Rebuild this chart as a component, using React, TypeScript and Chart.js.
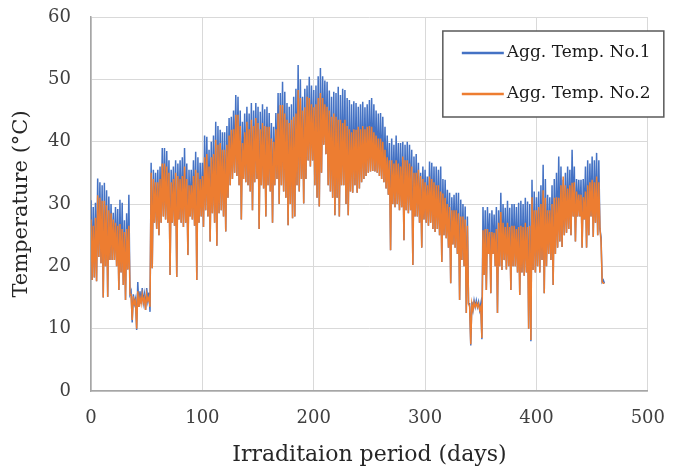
import React, { useEffect, useRef } from "react";
import { Chart, registerables } from "chart.js";

Chart.register(...registerables);

// x axis: irradiation period (days), y axis: temperature (°C)
const xTickValues = [0, 100, 200, 300, 400, 500];
const yTickValues = [0, 10, 20, 30, 40, 50, 60];
const seriesNames = ["Agg. Temp. No.1", "Agg. Temp. No.2"];
const seriesColors = ["#4472C4", "#ED7D31"];

// readings sampled every 2 days: daily high at the sample day, daily low the day after
const startDay = 0;
const stepDays = 2;

const no1Max = [
  30.6, 29.5, 30.2, 34.1, 33.5, 33, 33.4, 32.2, 31.2, 30,
  28.6, 29.5, 29.2, 30.7, 30.2, 27.4, 28.5, 31.5, 16, 15.5,
  14.8, 17.5, 16, 16.5, 15.5, 16.5, 15.8, 36.6, 35.5, 35,
  35.5, 36, 39, 39, 38.5, 37, 35.5, 36, 37, 36.5,
  37, 37.5, 39, 36.5, 35.5, 35.5, 37, 38.4, 37.5, 36.6,
  36.6, 41, 40.8, 38.7, 40, 41, 43.2, 42.5, 41.9, 41.5,
  41.5, 42.5, 43.8, 44, 45, 47.5, 47.2, 45, 43.2, 44.5,
  45.6, 44.5, 46.2, 45, 46.2, 45.6, 44.8, 46, 45.2, 45.6,
  44.6, 43, 42.4, 44.6, 47.8, 47.8, 49.6, 48, 46.2, 45.6,
  46, 47.2, 48.5, 52.3, 50, 47.2, 48.5, 49, 50.4, 49,
  48.3, 49, 50.5, 51.8, 50.5, 49.8, 49.6, 48.2, 47.2, 48,
  47.8, 48.8, 47.5, 48.5, 48.3, 47, 46.7, 46, 46.5, 46.2,
  45.6, 46, 46.4, 45.5, 46, 46.7, 47, 46, 45, 44.5,
  44.6, 44, 42.4, 41, 39.8, 40.5, 39.5, 41, 39.8, 39.8,
  40, 39.5, 40, 39.5, 38.7, 37.6, 38, 36.6, 35, 36,
  35.5, 34.4, 36.8, 36.6, 36, 36, 35.5, 36, 34, 33.9,
  32.3, 31.8, 31.1, 31.5, 31.8, 31.8, 30.7, 30, 29.6, 28,
  14, 14.3, 14.5, 14.5, 14.3, 14, 29.5, 29, 29.5, 28.5,
  29, 28.3, 29.5, 29, 31.8, 30, 29.4, 30.5, 29.4, 30,
  30, 29.5, 30.2, 30.5, 30, 31, 30.4, 30, 33.9, 32,
  31.1, 32, 33, 36.3, 34, 31.5, 31.1, 33, 34, 35,
  37.6, 36, 33.9, 35, 36, 35.5, 38.7, 36, 34, 33.9,
  33.9, 34, 36, 37, 36.5, 37.6, 37, 38.2, 37, 24.7, 17.8,
];

const no1Min = [
  17.8, 18.2, 17.6, 21.5, 20.5, 15, 20, 15.1, 21, 21,
  21, 20, 16.2, 19, 17, 14.6, 19.5, 15.5, 11, 14,
  9.8, 13.5, 14, 14.2, 13, 14.5, 12.7, 19.7, 27, 26,
  25, 27, 28, 27.5, 27, 18.6, 27, 26.5, 18.3, 27.5,
  27, 26.3, 27, 21.8, 28, 27.5, 26.5, 17.8, 27, 28,
  26.3, 29, 28, 24, 28.5, 27, 23.3, 28.5, 29, 28,
  25.6, 31, 33, 34, 35, 34.5, 33, 27.5, 34, 33.5,
  33, 32, 29, 33.5, 34, 26, 33, 32.5, 28, 33,
  32, 27, 33, 34, 30, 33, 32, 31, 26.6, 30,
  27.7, 28, 33, 32, 34, 30.1, 34, 37, 36, 37,
  33, 31, 29.6, 35, 39.5, 38, 33, 32, 31, 28.2,
  31, 28, 33, 33, 30, 28.2, 32, 31.8, 33, 31.8,
  32.5, 33.5, 34, 34.5, 35, 35.2, 35.3, 35.2, 35, 34.5,
  34, 33.5, 32.5, 31.5, 22.6, 30, 29.5, 30, 29, 29.5,
  24.2, 29, 28.5, 29, 20.2, 28, 28, 27, 23, 27.5,
  27, 26.5, 27, 26, 25.5, 26, 25, 20.7, 25, 24.5,
  23, 17.3, 23.5, 23, 22, 14.6, 21, 20, 12.5, 14,
  7.3, 13, 13.5, 13.5, 13, 8.3, 18.6, 16.2, 22, 15.7,
  22, 20, 12.5, 20, 19.4, 21, 19.5, 20, 16.2, 20,
  20, 19, 15.4, 19, 18.5, 19, 10, 8, 19.4, 19,
  20, 19, 21, 15.7, 20, 22, 21, 17, 22, 23,
  24, 23.1, 25, 25.4, 26, 25, 28, 24, 28, 28,
  23, 27.5, 23, 25, 28, 24.7, 27, 25, 26, 17.5, 17.3,
];

const no2Max = [
  27.5, 26.5, 27.8, 31.4, 31, 30.5, 30.5, 29.8, 29, 28.5,
  27.5, 27, 26.5, 26.8, 26, 25.5, 26, 26.5, 15.5, 15.2,
  14.5, 16, 15, 15.5, 15, 15.5, 15, 35, 34, 33.5,
  33.5, 34, 36.5, 36.5, 36, 35, 33.5, 34, 35, 34.5,
  34, 34.5, 36, 34, 33, 33, 34.5, 35.5, 35, 34,
  34.5, 37.5, 38, 36, 37.5, 38, 40.3, 39.5, 39.8, 38.7,
  38.7, 39.5, 41, 41.9, 42, 44.3, 44.3, 42.5, 39.8, 41.5,
  43.2, 42, 43.5, 42.5, 43.8, 43, 42, 43, 42.5, 42.4,
  42.4, 40.5, 40, 42, 44.5, 45.9, 45.9, 44.5, 43.5, 43,
  43.5, 44, 44.5, 48.3, 47, 45, 45.5, 47.2, 47, 46,
  45.5, 46, 47, 47.8, 47, 46, 45.6, 45, 44, 44.5,
  44, 43.5, 43.5, 43, 43.5, 42.5, 42, 41.5, 42, 41.9,
  42.4, 42, 42.5, 42, 42.4, 42.5, 42.4, 41.5, 41, 40.5,
  40.5, 40, 38.7, 37.5, 37, 37, 36.5, 37, 36.5, 36,
  37.6, 37, 37, 36.5, 36, 35, 35, 35.5, 34.5, 34,
  33.5, 33, 34.4, 34, 33.5, 33, 33, 32, 31.7, 31,
  30, 29.5, 29, 29, 29, 28.5, 28, 28, 27.5, 26.5,
  13.5, 14, 14.2, 14.1, 14, 13.5, 25.8, 26, 26, 25.5,
  25.5, 25.4, 26, 27, 28.7, 27, 26.3, 27, 26.3, 26.5,
  26.5, 26, 26.3, 26.5, 26.3, 27, 26.3, 26.5, 31.1, 29,
  29, 29.5, 30, 32.2, 31, 29, 29, 30, 31, 31.1,
  31, 33, 34.4, 33, 32.5, 33, 33.4, 33.5, 32, 31.5,
  31.5, 31.1, 32, 33, 33.5, 33.9, 33.5, 34.4, 33.5, 24, 17.3,
];

const no2Min = [
  17.8, 18.2, 17.6, 21.5, 20.5, 15, 20, 15.1, 21, 21,
  21, 20, 16.2, 19, 17, 14.6, 19.5, 15.5, 11.4, 14,
  10, 13.5, 14, 14.2, 13, 14.5, 13.5, 19.7, 27, 26,
  25, 27, 28, 27.5, 27, 18.6, 27, 26.5, 18.3, 27.5,
  27, 26.3, 27, 21.8, 28, 27.5, 26.5, 17.8, 27, 28,
  26.3, 29, 28, 24, 28.5, 27, 23.3, 28.5, 29, 28,
  25.6, 31, 33, 34, 35, 34.5, 33, 27.5, 34, 33.5,
  33, 32, 29, 33.5, 34, 26, 33, 32.5, 28, 33,
  32, 27, 33, 34, 30, 33, 32, 31, 26.6, 30,
  27.7, 28, 33, 32, 34, 30.1, 34, 37, 36, 37,
  33, 31, 29.6, 35, 39.5, 38, 33, 32, 31, 28.2,
  31, 28, 33, 33, 30, 28.2, 32, 31.8, 33, 31.8,
  32.5, 33.5, 34, 34.5, 35, 35.2, 35.3, 35.2, 35, 34.5,
  34, 33.5, 32.5, 31.5, 22.6, 30, 29.5, 30, 29, 29.5,
  24.2, 29, 28.5, 29, 20.2, 28, 28, 27, 23, 27.5,
  27, 26.5, 27, 26, 25.5, 26, 25, 20.7, 25, 24.5,
  23, 17.3, 23.5, 23, 22, 14.6, 21, 20, 12.5, 14,
  7.5, 13, 13.5, 13.5, 13, 8.5, 18.6, 16.2, 22, 15.7,
  22, 20, 12.5, 20, 19.4, 21, 19.5, 20, 16.2, 20,
  20, 19, 15.4, 19, 18.5, 19, 10, 8.2, 19.4, 19,
  20, 19, 21, 15.7, 20, 22, 21, 17, 22, 23,
  24, 23.1, 25, 25.4, 26, 25, 28, 24, 28, 28,
  23, 27.5, 23, 25, 28, 24.7, 27, 25, 26, 17.5, 17.3,
];

const FONT = "'DejaVu Serif', 'Liberation Serif', serif";

function toPoints(highs: number[], lows: number[]) {
  const pts: { x: number; y: number }[] = [];
  highs.forEach((h, i) => {
    const day = startDay + i * stepDays;
    pts.push({ x: day, y: h });
    pts.push({ x: day + 1, y: lows[i] });
  });
  return pts;
}

const boxLegend = {
  id: "boxLegend",
  afterDraw(chart: any) {
    const { ctx, chartArea } = chart;
    const left = chartArea.right - 205;
    const top = chartArea.top + 14;
    const w = 221;
    const h = 86;
    ctx.save();
    ctx.fillStyle = "#ffffff";
    ctx.fillRect(left, top, w, h);
    ctx.strokeStyle = "#595959";
    ctx.lineWidth = 1.5;
    ctx.strokeRect(left, top, w, h);
    ctx.font = `17px ${FONT}`;
    ctx.textBaseline = "middle";
    ctx.textAlign = "left";
    seriesNames.forEach((name, i) => {
      const y = top + 22 + i * 41;
      ctx.strokeStyle = seriesColors[i];
      ctx.lineWidth = 2.5;
      ctx.beginPath();
      ctx.moveTo(left + 19, y);
      ctx.lineTo(left + 61, y);
      ctx.stroke();
      ctx.fillStyle = "#1a1a1a";
      ctx.fillText(name, left + 64, y);
    });
    ctx.restore();
  },
};

export default function App() {
  const ref = useRef<HTMLCanvasElement | null>(null);

  useEffect(() => {
    if (!ref.current) return;
    const chart = new Chart(ref.current, {
      type: "line",
      data: {
        datasets: [
          {
            label: seriesNames[0],
            data: toPoints(no1Max, no1Min),
            borderColor: seriesColors[0],
            backgroundColor: seriesColors[0],
            borderWidth: 1.5,
            pointRadius: 0,
            tension: 0,
            order: 1,
          },
          {
            label: seriesNames[1],
            data: toPoints(no2Max, no2Min),
            borderColor: seriesColors[1],
            backgroundColor: seriesColors[1],
            borderWidth: 1.5,
            pointRadius: 0,
            tension: 0,
            order: 0,
          },
        ],
      },
      options: {
        responsive: false,
        animation: false,
        parsing: false,
        normalized: true,
        layout: { padding: { top: 17, right: 34, left: 0, bottom: 0 } },
        plugins: {
          legend: { display: false },
          tooltip: { enabled: false },
        },
        scales: {
          x: {
            type: "linear",
            min: xTickValues[0],
            max: xTickValues[xTickValues.length - 1],
            afterBuildTicks: (s: any) => {
              s.ticks = xTickValues.map((v) => ({ value: v }));
            },
            afterFit: (s: any) => {
              s.height = 79;
            },
            grid: { color: "#d9d9d9", lineWidth: 1, drawTicks: false },
            border: { display: true, color: "#a6a6a6", width: 1.5 },
            ticks: {
              padding: 17,
              color: "#404040",
              font: { family: FONT, size: 18 },
              maxRotation: 0,
            },
            title: {
              display: true,
              text: "Irraditaion period (days)",
              color: "#262626",
              font: { family: FONT, size: 22 },
              padding: { top: 0, bottom: 2 },
            },
          },
          y: {
            type: "linear",
            min: yTickValues[0],
            max: yTickValues[yTickValues.length - 1],
            afterBuildTicks: (s: any) => {
              s.ticks = yTickValues.map((v) => ({ value: v }));
            },
            afterFit: (s: any) => {
              s.width = 91;
            },
            grid: {
              color: "#d9d9d9",
              lineWidth: 1,
              drawTicks: true,
              tickLength: 20,
              tickColor: "rgba(0,0,0,0)",
            },
            border: { display: true, color: "#a6a6a6", width: 1.5 },
            ticks: {
              padding: 0,
              color: "#404040",
              font: { family: FONT, size: 18 },
            },
            title: {
              display: true,
              text: "Temperature (°C)",
              color: "#262626",
              font: { family: FONT, size: 21 },
              padding: { top: 9, bottom: 0 },
            },
          },
        },
      },
      plugins: [boxLegend],
    });
    return () => chart.destroy();
  }, []);

  return (
    <div style={{ position: "absolute", left: 0, top: 0, width: 682, height: 470, background: "#fff" }}>
      <canvas ref={ref} width={682} height={470} style={{ display: "block" }} />
    </div>
  );
}
